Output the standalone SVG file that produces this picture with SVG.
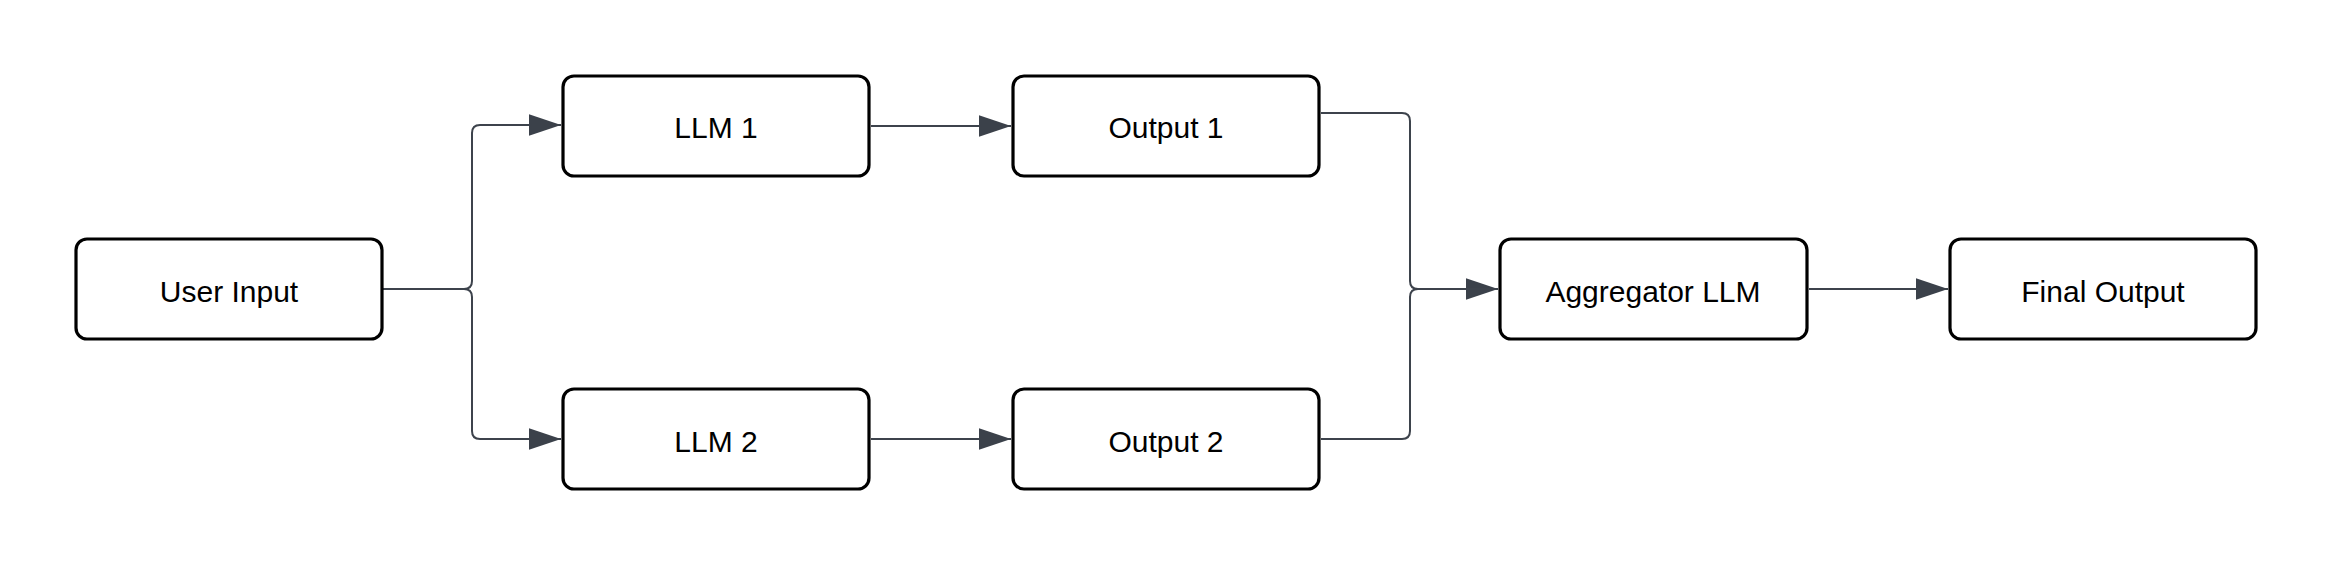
<svg xmlns="http://www.w3.org/2000/svg" width="2333" height="566" viewBox="0 0 2333 566">
<style>
.box{fill:#ffffff;stroke:#000000;stroke-width:3.2}
.lbl{font-family:"Liberation Sans",Arial,sans-serif;font-size:30px;fill:#000000;text-anchor:middle}
.edge{fill:none;stroke:#3d434c;stroke-width:2}
</style>
<defs>
<marker id="arr" markerUnits="userSpaceOnUse" markerWidth="32" markerHeight="22" viewBox="0 0 30 20" refX="30" refY="10" orient="auto">
<path d="M0,0 L30,10 L0,20 Z" fill="#3b414a"/>
</marker>
</defs>
<rect width="2333" height="566" fill="#ffffff"/>
<g id="connectors">
<path class="edge" d="M383,289 H464 Q472,289 472,281 V133 Q472,125 480,125 H561" marker-end="url(#arr)"/>
<path class="edge" d="M383,289 H464 Q472,289 472,297 V431 Q472,439 480,439 H561" marker-end="url(#arr)"/>
<path class="edge" d="M871,126 H1011" marker-end="url(#arr)"/>
<path class="edge" d="M871,439 H1011" marker-end="url(#arr)"/>
<path class="edge" d="M1321,113 H1402 Q1410,113 1410,121 V281 Q1410,289 1418,289 H1498" marker-end="url(#arr)"/>
<path class="edge" d="M1321,439 H1402 Q1410,439 1410,431 V297 Q1410,289 1418,289 H1498"/>
<path class="edge" d="M1809,289 H1948" marker-end="url(#arr)"/>
</g>
<g id="user-input">
<rect class="box" x="76" y="239" width="306" height="100" rx="11"/>
<text class="lbl" x="229" y="302">User Input</text>
</g>
<g id="llm1">
<rect class="box" x="563" y="76" width="306" height="100" rx="11"/>
<text class="lbl" x="716" y="138">LLM 1</text>
</g>
<g id="output1">
<rect class="box" x="1013" y="76" width="306" height="100" rx="11"/>
<text class="lbl" x="1166" y="138">Output 1</text>
</g>
<g id="llm2">
<rect class="box" x="563" y="389" width="306" height="100" rx="11"/>
<text class="lbl" x="716" y="452">LLM 2</text>
</g>
<g id="output2">
<rect class="box" x="1013" y="389" width="306" height="100" rx="11"/>
<text class="lbl" x="1166" y="452">Output 2</text>
</g>
<g id="aggregator">
<rect class="box" x="1500" y="239" width="307" height="100" rx="11"/>
<text class="lbl" x="1653" y="302">Aggregator LLM</text>
</g>
<g id="final-output">
<rect class="box" x="1950" y="239" width="306" height="100" rx="11"/>
<text class="lbl" x="2103" y="302">Final Output</text>
</g>
</svg>
